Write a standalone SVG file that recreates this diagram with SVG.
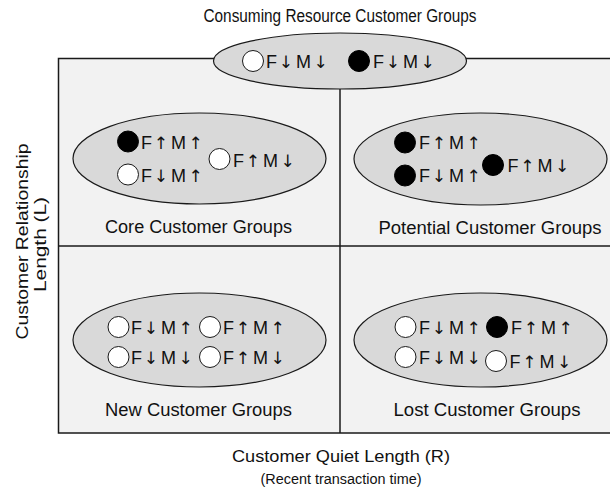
<svg xmlns="http://www.w3.org/2000/svg" width="610" height="490" viewBox="0 0 610 490">
  <style>
    text { font-family: "Liberation Sans", Arial, sans-serif; fill: #111; }
    .lbl { font-size: 18px; text-anchor: middle; }
    .axis { font-size: 17px; text-anchor: middle; }
    .sub { font-size: 14px; text-anchor: middle; }
    .fm { font-size: 18px; }
    .ar { font-family: "DejaVu Sans", sans-serif; font-size: 17px; }
    .grid { fill: none; stroke: #1a1a1a; stroke-width: 1.5; }
    .cell { fill: #f2f2f2; }
    .group { fill: #d9d9d9; stroke: #1a1a1a; stroke-width: 1.2; }
    .open { fill: #ffffff; stroke: #1a1a1a; stroke-width: 1; }
    .full { fill: #000000; stroke: #000000; stroke-width: 1; }
  </style>

  <rect width="610" height="490" fill="#ffffff"/>

  <!-- quadrant frame -->
  <g id="frame">
    <rect class="cell" x="58.5" y="58.5" width="560" height="374.5"/>
    <rect class="grid" x="58.5" y="58.5" width="560" height="374.5"/>
    <line class="grid" x1="340" y1="58.5" x2="340" y2="433"/>
    <line class="grid" x1="58.5" y1="246" x2="618" y2="246"/>
  </g>

  <!-- axis titles -->
  <text class="lbl" x="340" y="22" font-size="17" textLength="273" lengthAdjust="spacingAndGlyphs">Consuming Resource Customer Groups</text>
  <text class="axis" x="341" y="462" textLength="218" lengthAdjust="spacingAndGlyphs">Customer Quiet Length (R)</text>
  <text class="sub" x="341" y="484" textLength="161" lengthAdjust="spacingAndGlyphs">(Recent transaction time)</text>
  <text class="axis" transform="translate(28 241.5) rotate(-90)" textLength="196" lengthAdjust="spacingAndGlyphs">Customer Relationship</text>
  <text class="axis" transform="translate(46 244.5) rotate(-90)" textLength="95" lengthAdjust="spacingAndGlyphs">Length (L)</text>

  <!-- consuming resource group -->
  <g id="consuming">
    <ellipse class="group" cx="340" cy="61" rx="126.5" ry="28"/>
    <circle class="open" cx="253" cy="61" r="10.5"/>
    <text class="fm" x="266" y="67.5">F<tspan class="ar" x="278.8">↓</tspan><tspan x="296">M</tspan><tspan class="ar" x="313.5">↓</tspan></text>
    <circle class="full" cx="359" cy="61" r="10.5"/>
    <text class="fm" x="373" y="67.5">F<tspan class="ar" x="385.8">↓</tspan><tspan x="403">M</tspan><tspan class="ar" x="420.5">↓</tspan></text>
  </g>

  <!-- core customers -->
  <g id="core">
    <ellipse class="group" cx="199.5" cy="158.5" rx="126.5" ry="45.5"/>
    <circle class="full" cx="128" cy="141.5" r="10.5"/>
    <text class="fm" x="141" y="148.5">F<tspan class="ar" x="153.8">↑</tspan><tspan x="171">M</tspan><tspan class="ar" x="188.5">↑</tspan></text>
    <circle class="open" cx="128" cy="174.5" r="10.5"/>
    <text class="fm" x="141" y="182">F<tspan class="ar" x="153.8">↓</tspan><tspan x="171">M</tspan><tspan class="ar" x="188.5">↑</tspan></text>
    <circle class="open" cx="219.5" cy="159" r="10.5"/>
    <text class="fm" x="233" y="166.5">F<tspan class="ar" x="245.8">↑</tspan><tspan x="263">M</tspan><tspan class="ar" x="280.5">↓</tspan></text>
    <text class="lbl" x="198.5" y="233" textLength="187" lengthAdjust="spacingAndGlyphs">Core Customer Groups</text>
  </g>

  <!-- potential customers -->
  <g id="potential">
    <ellipse class="group" cx="480.5" cy="159" rx="126.5" ry="46"/>
    <circle class="full" cx="405" cy="142.5" r="10.5"/>
    <text class="fm" x="419" y="149">F<tspan class="ar" x="431.8">↑</tspan><tspan x="449">M</tspan><tspan class="ar" x="466.5">↑</tspan></text>
    <circle class="full" cx="405" cy="175.5" r="10.5"/>
    <text class="fm" x="419" y="182">F<tspan class="ar" x="431.8">↓</tspan><tspan x="449">M</tspan><tspan class="ar" x="466.5">↑</tspan></text>
    <circle class="full" cx="493" cy="165" r="10.5"/>
    <text class="fm" x="507.5" y="171.5">F<tspan class="ar" x="520.3">↑</tspan><tspan x="537.5">M</tspan><tspan class="ar" x="555">↓</tspan></text>
    <text class="lbl" x="490" y="234" textLength="223" lengthAdjust="spacingAndGlyphs">Potential Customer Groups</text>
  </g>

  <!-- new customers -->
  <g id="new">
    <ellipse class="group" cx="199.5" cy="340" rx="126.5" ry="47"/>
    <circle class="open" cx="118.5" cy="327" r="10.5"/>
    <text class="fm" x="131" y="333.5">F<tspan class="ar" x="143.8">↓</tspan><tspan x="161">M</tspan><tspan class="ar" x="178.5">↑</tspan></text>
    <circle class="open" cx="210" cy="327" r="10.5"/>
    <text class="fm" x="223" y="333.5">F<tspan class="ar" x="235.8">↑</tspan><tspan x="253">M</tspan><tspan class="ar" x="270.5">↑</tspan></text>
    <circle class="open" cx="118.5" cy="357" r="10.5"/>
    <text class="fm" x="131" y="363.5">F<tspan class="ar" x="143.8">↓</tspan><tspan x="161">M</tspan><tspan class="ar" x="178.5">↓</tspan></text>
    <circle class="open" cx="210" cy="357" r="10.5"/>
    <text class="fm" x="223" y="363.5">F<tspan class="ar" x="235.8">↑</tspan><tspan x="253">M</tspan><tspan class="ar" x="270.5">↓</tspan></text>
    <text class="lbl" x="198.5" y="416" textLength="187" lengthAdjust="spacingAndGlyphs">New Customer Groups</text>
  </g>

  <!-- lost customers -->
  <g id="lost">
    <ellipse class="group" cx="480.5" cy="340" rx="126.5" ry="47"/>
    <circle class="open" cx="405.5" cy="327" r="10.5"/>
    <text class="fm" x="419" y="333.5">F<tspan class="ar" x="431.8">↓</tspan><tspan x="449">M</tspan><tspan class="ar" x="466.5">↑</tspan></text>
    <circle class="full" cx="497" cy="327" r="10.5"/>
    <text class="fm" x="511" y="333.5">F<tspan class="ar" x="523.8">↑</tspan><tspan x="541">M</tspan><tspan class="ar" x="558.5">↑</tspan></text>
    <circle class="open" cx="405.5" cy="357" r="10.5"/>
    <text class="fm" x="419" y="363.5">F<tspan class="ar" x="431.8">↓</tspan><tspan x="449">M</tspan><tspan class="ar" x="466.5">↓</tspan></text>
    <circle class="open" cx="496" cy="361" r="10.5"/>
    <text class="fm" x="509.5" y="367.5">F<tspan class="ar" x="522.3">↑</tspan><tspan x="539.5">M</tspan><tspan class="ar" x="557">↓</tspan></text>
    <text class="lbl" x="487" y="416" textLength="187" lengthAdjust="spacingAndGlyphs">Lost Customer Groups</text>
  </g>
</svg>
